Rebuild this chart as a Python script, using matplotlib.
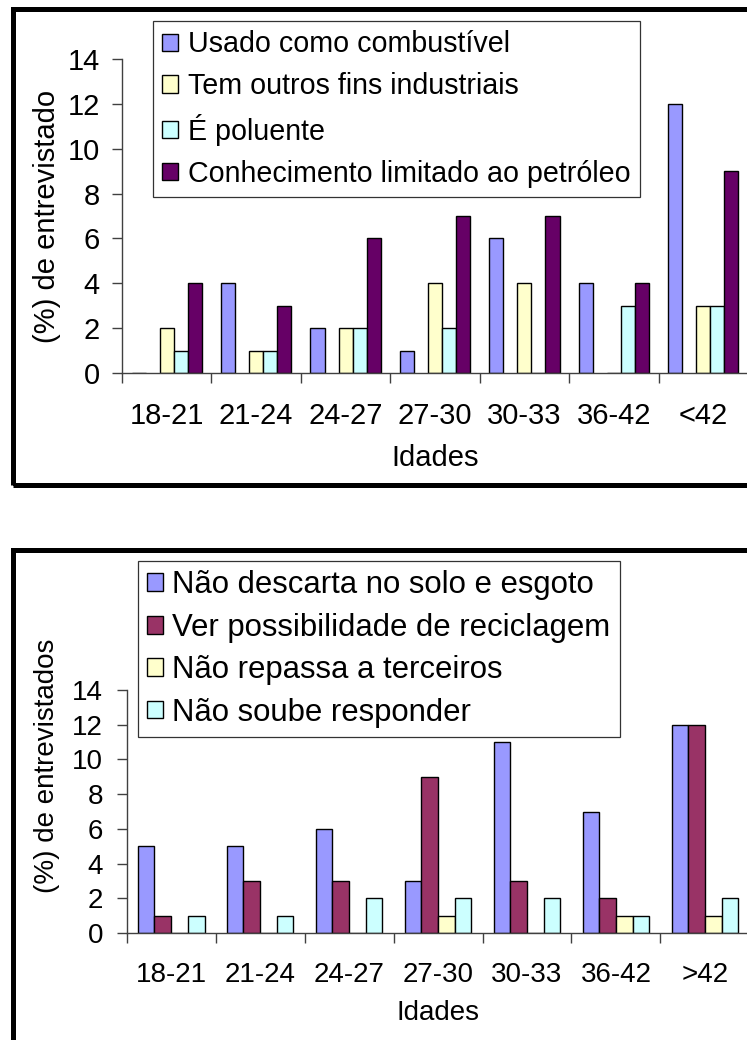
import numpy as np
import matplotlib
matplotlib.use('Agg')
import matplotlib.pyplot as plt
from matplotlib.patches import Rectangle

plt.rcParams['font.family'] = ['Liberation Sans', 'DejaVu Sans']

# Gráfico 1 - dados
idades_1 = ['18-21', '21-24', '24-27', '27-30', '30-33', '36-42', '<42']
combustivel = [0, 4, 2, 1, 6, 4, 12]
vazio = [0, 0, 0, 0, 0, 0, 0]  # série sem valores (ocupa um espaço no grupo)
outros_fins = [2, 1, 2, 4, 4, 0, 3]
poluente = [1, 1, 2, 2, 0, 3, 3]
petroleo = [4, 3, 6, 7, 7, 4, 9]

# Gráfico 2 - dados
idades_2 = ['18-21', '21-24', '24-27', '27-30', '30-33', '36-42', '>42']
nao_descarta = [5, 5, 6, 3, 11, 7, 12]
reciclagem = [1, 3, 3, 9, 3, 2, 12]
nao_repassa = [0, 0, 0, 1, 0, 1, 1]
nao_soube = [1, 1, 2, 2, 2, 1, 2]

W, H = 747, 1040
fig = plt.figure(figsize=(W / 100, H / 100), dpi=100)
fig.patch.set_facecolor('white')


def px(x0, y0, x1, y1):
    # converte pixels (origem no topo) para fração da figura
    return [x0 / W, 1 - y1 / H, (x1 - x0) / W, (y1 - y0) / H]


def estilo_eixo(ax, cats, fs, pad_y, tick_len=7):
    n = len(cats)
    ax.set_xlim(0, n)
    ax.set_ylim(0, 14)
    ax.set_yticks(range(0, 15, 2))
    ax.set_xticks(np.arange(0, n + 1))
    ax.set_xticklabels([])
    ax.set_xticks(np.arange(n) + 0.5, minor=True)
    ax.set_xticklabels(cats, minor=True, fontsize=fs)
    ax.tick_params(axis='x', which='major', direction='out', length=tick_len, width=1, color='#404040')
    ax.tick_params(axis='x', which='minor', length=0, pad=21)
    ax.tick_params(axis='y', direction='out', length=tick_len, width=1, color='#404040', labelsize=fs, pad=pad_y)
    for s in ['top', 'right']:
        ax.spines[s].set_visible(False)
    for s in ['left', 'bottom']:
        ax.spines[s].set_color('#404040')
        ax.spines[s].set_linewidth(1)
    ax.set_facecolor('none')


# ---------- Gráfico 1 ----------
ax1 = fig.add_axes(px(122, 59, 748, 373))
x = np.arange(len(idades_1)) + 0.5
w = 0.157
series1 = [combustivel, vazio, outros_fins, poluente, petroleo]
cores1 = ['#9999FF', 'none', '#FFFFCC', '#CCFFFF', '#660066']
nomes1 = ['Usado como combustível', None, 'Tem outros fins industriais', 'É poluente',
          'Conhecimento limitado ao petróleo']
handles1 = []
for i, (vals, cor, nome) in enumerate(zip(series1, cores1, nomes1)):
    if nome is None:
        continue
    b = ax1.bar(x + (i - 2) * w, vals, w, color=cor, edgecolor='black', linewidth=1, label=nome)
    handles1.append(b)
estilo_eixo(ax1, idades_1, 21, 9)
ax1.set_xlabel('Idades', fontsize=21)
ax1.xaxis.label.set_va('center')
ax1.xaxis.set_label_coords(0.5, -0.272)
ax1.set_ylabel('(%) de entrevistado', fontsize=21)
ax1.yaxis.label.set_va('center')
ax1.yaxis.set_label_coords(-0.12, 0.5)
leg1 = fig.legend(handles=handles1, loc='upper left', bbox_to_anchor=(153 / W, 1 - 21 / H),
                  fontsize=20.6, frameon=True, fancybox=False, edgecolor='black',
                  handlelength=0.55, handleheight=0.55, handletextpad=0.35,
                  labelspacing=0.48, borderpad=0.33, borderaxespad=0)
leg1.get_frame().set_linewidth(0.9)

# ---------- Gráfico 2 ----------
ax2 = fig.add_axes(px(126.7, 690, 749.4, 933))
x = np.arange(len(idades_2)) + 0.5
w = 0.1875
series2 = [nao_descarta, reciclagem, nao_repassa, nao_soube]
cores2 = ['#9999FF', '#993366', '#FFFFCC', '#CCFFFF']
nomes2 = ['Não descarta no solo e esgoto', 'Ver possibilidade de reciclagem',
          'Não repassa a terceiros', 'Não soube responder']
for i, (vals, cor, nome) in enumerate(zip(series2, cores2, nomes2)):
    ax2.bar(x + (i - 1.5) * w, vals, w, color=cor, edgecolor='black', linewidth=1, label=nome)
estilo_eixo(ax2, idades_2, 20, 10)
ax2.set_xlabel('Idades', fontsize=20)
ax2.xaxis.label.set_va('center')
ax2.xaxis.set_label_coords(0.5, -0.329)
ax2.set_ylabel('(%) de entrevistados', fontsize=20)
ax2.yaxis.label.set_va('center')
ax2.yaxis.set_label_coords(-0.128, 0.69)
h2, l2 = ax2.get_legend_handles_labels()
leg2 = fig.legend(h2, l2, loc='upper left', bbox_to_anchor=(138 / W, 1 - 561 / H),
                  fontsize=22.4, frameon=True, fancybox=False, edgecolor='black',
                  handlelength=0.5, handleheight=0.5, handletextpad=0.3,
                  labelspacing=0.4, borderpad=0.3, borderaxespad=0)
leg2.get_frame().set_linewidth(0.9)

# molduras pretas
fig.patches.append(Rectangle((12.5 / W, 1 - 484.5 / H), (770 - 12.5) / W, (484.5 - 8.5) / H,
                             transform=fig.transFigure, fill=False, edgecolor='black', linewidth=3.6))
fig.patches.append(Rectangle((12.5 / W, 1 - 1100 / H), (770 - 12.5) / W, (1100 - 550) / H,
                             transform=fig.transFigure, fill=False, edgecolor='black', linewidth=3.6))

fig.savefig('out.png', dpi=100, facecolor='white')
